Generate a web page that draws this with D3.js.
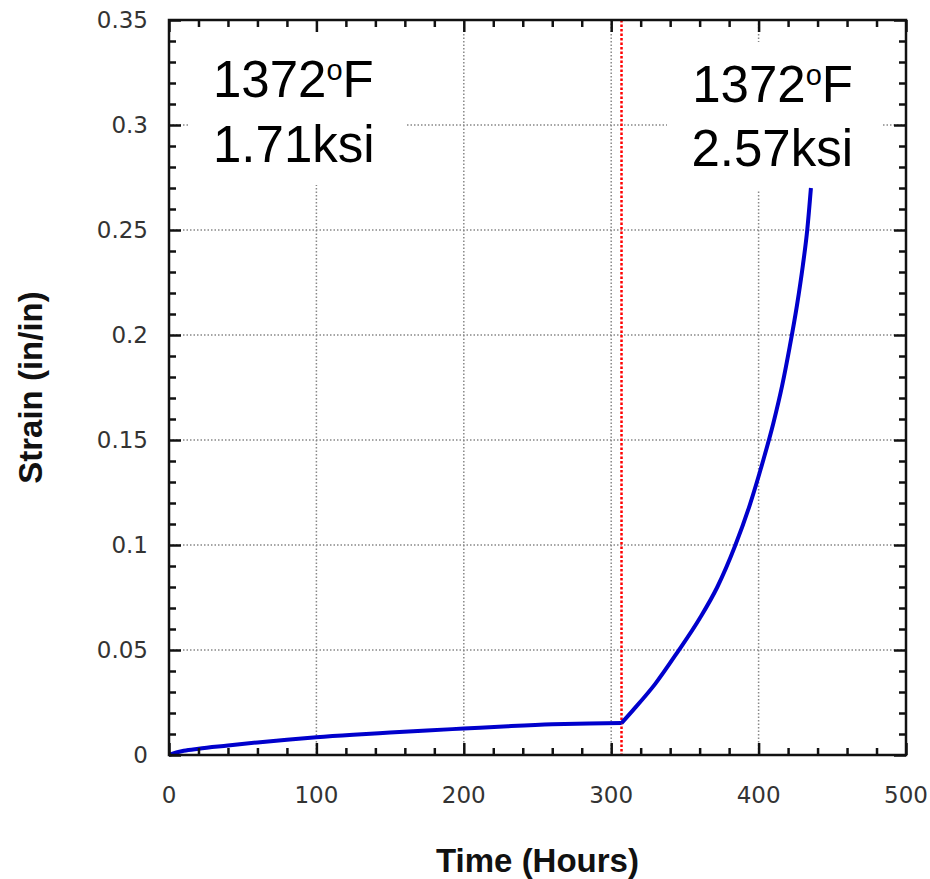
<!DOCTYPE html>
<meta charset="utf-8">
<script src="https://cdnjs.cloudflare.com/ajax/libs/d3/7.8.5/d3.min.js"></script>
<style>
  body { margin: 0; background: white; }
  .tick-label { font-family: "DejaVu Sans"; font-size: 23px; fill: #333; }
  .axis-title { font-family: "Liberation Sans"; font-weight: bold; font-size: 33px; fill: #111; }
  .note { font-family: "Liberation Sans"; font-size: 51px; fill: black; }
</style>
<body>
<script>
  // strain vs time
  var time1 = [0, 5, 10, 20, 40, 60, 80, 100, 125, 150, 175, 200, 230, 260, 285, 307];
  var strain1 = [0, 0.0012, 0.002, 0.003, 0.0045, 0.006, 0.0073, 0.0085, 0.0097, 0.0107, 0.0117, 0.0126, 0.0137, 0.0146, 0.015, 0.0152];
  var time2 = [307, 315, 330, 345, 360, 372, 384, 394, 403, 410, 416, 421, 426, 430, 433, 435.5];
  var strain2 = [0.0152, 0.0215, 0.034, 0.049, 0.065, 0.080, 0.0995, 0.119, 0.14, 0.158, 0.176, 0.194, 0.214, 0.233, 0.25, 0.27];
  var loadChange = 307;

  var xTicks = [0, 100, 200, 300, 400, 500];
  var yTicks = [0, 0.05, 0.1, 0.15, 0.2, 0.25, 0.3, 0.35];

  var WIDTH = 930, HEIGHT = 879;
  var pLeft = 169, pRight = 906, pTop = 20, pBottom = 755;

  var svg = d3.select("body").append("svg")
    .attr("width", WIDTH)
    .attr("height", HEIGHT);

  var x = d3.scaleLinear().domain([0, 500]).range([pLeft, pRight]);
  var y = d3.scaleLinear().domain([0, 0.35]).range([pBottom, pTop]);

  // gridlines
  svg.append("g").selectAll("line").data(xTicks.slice(1, -1)).enter().append("line")
    .attr("x1", d => x(d)).attr("x2", d => x(d))
    .attr("y1", pTop).attr("y2", pBottom)
    .attr("stroke", "#888").attr("stroke-width", 1.5).attr("stroke-dasharray", "1.5,2");
  svg.append("g").selectAll("line").data(yTicks.slice(1, -1)).enter().append("line")
    .attr("y1", d => y(d)).attr("y2", d => y(d))
    .attr("x1", pLeft).attr("x2", pRight)
    .attr("stroke", "#888").attr("stroke-width", 1.5).attr("stroke-dasharray", "1.5,2");

  // white boxes behind the notes
  svg.append("rect").attr("x", 188).attr("y", pTop + 2).attr("width", 217).attr("height", 163).attr("fill", "white");
  svg.append("rect").attr("x", 667).attr("y", 42).attr("width", 215).attr("height", 148).attr("fill", "white");

  // red dotted line where the load changes
  svg.append("line")
    .attr("x1", x(loadChange)).attr("x2", x(loadChange))
    .attr("y1", pTop).attr("y2", pBottom)
    .attr("stroke", "red").attr("stroke-width", 2.5).attr("stroke-dasharray", "2.5,2");

  // curves
  var line = d3.line().x(d => x(d[0])).y(d => y(d[1])).curve(d3.curveMonotoneX);
  [[time1, strain1], [time2, strain2]].forEach(function(s) {
    svg.append("path")
      .datum(d3.zip(s[0], s[1]))
      .attr("d", line)
      .attr("fill", "none")
      .attr("stroke", "#0000cc")
      .attr("stroke-width", 4);
  });

  // axes with inward ticks on all four sides
  function minor(major, step) {
    var out = [];
    for (var i = 0; i < major.length - 1; i++)
      for (var k = 1; k < 5; k++) out.push(major[i] + k * step);
    return out;
  }
  var xMinor = minor(xTicks, 20);
  var yMinor = minor(yTicks, 0.01);

  var axes = svg.append("g");
  axes.append("g").attr("transform", "translate(0," + pBottom + ")")
    .call(d3.axisTop(x).tickValues(xTicks).tickSize(12).tickFormat(""));
  axes.append("g").attr("transform", "translate(0," + pBottom + ")")
    .call(d3.axisTop(x).tickValues(xMinor).tickSize(7).tickFormat(""));
  axes.append("g").attr("transform", "translate(0," + pTop + ")")
    .call(d3.axisBottom(x).tickValues(xTicks).tickSize(12).tickFormat(""));
  axes.append("g").attr("transform", "translate(0," + pTop + ")")
    .call(d3.axisBottom(x).tickValues(xMinor).tickSize(7).tickFormat(""));
  axes.append("g").attr("transform", "translate(" + pLeft + ",0)")
    .call(d3.axisRight(y).tickValues(yTicks).tickSize(12).tickFormat(""));
  axes.append("g").attr("transform", "translate(" + pLeft + ",0)")
    .call(d3.axisRight(y).tickValues(yMinor).tickSize(7).tickFormat(""));
  axes.append("g").attr("transform", "translate(" + pRight + ",0)")
    .call(d3.axisLeft(y).tickValues(yTicks).tickSize(12).tickFormat(""));
  axes.append("g").attr("transform", "translate(" + pRight + ",0)")
    .call(d3.axisLeft(y).tickValues(yMinor).tickSize(7).tickFormat(""));
  axes.selectAll(".domain").remove();
  axes.selectAll("text").remove();
  axes.selectAll("line").attr("stroke", "#111").attr("stroke-width", 2.5);

  svg.append("rect")
    .attr("x", pLeft).attr("y", pTop)
    .attr("width", pRight - pLeft).attr("height", pBottom - pTop)
    .attr("fill", "none").attr("stroke", "#111").attr("stroke-width", 2.5);

  // tick labels
  svg.selectAll(".xl").data(xTicks).enter().append("text")
    .attr("class", "tick-label")
    .attr("x", d => x(d)).attr("y", 803)
    .attr("text-anchor", "middle")
    .text(d => d);
  svg.selectAll(".yl").data(yTicks).enter().append("text")
    .attr("class", "tick-label")
    .attr("x", 148).attr("y", d => y(d) + 8)
    .attr("text-anchor", "end")
    .text(d => d);

  // axis titles
  svg.append("text").attr("class", "axis-title")
    .attr("x", (pLeft + pRight) / 2).attr("y", 872)
    .attr("text-anchor", "middle")
    .text("Time (Hours)");
  svg.append("text").attr("class", "axis-title")
    .attr("transform", "translate(42," + (pTop + pBottom) / 2 + ") rotate(-90)")
    .attr("text-anchor", "middle")
    .text("Strain (in/in)");

  // notes
  function note(xp, y1, y2, anchor, second) {
    var t = svg.append("text").attr("class", "note").attr("x", xp).attr("y", y1).attr("text-anchor", anchor);
    t.append("tspan").text("1372");
    t.append("tspan").attr("font-size", 29).attr("dy", -17).text("o");
    t.append("tspan").attr("dy", 17).text("F");
    svg.append("text").attr("class", "note").attr("x", xp).attr("y", y2).attr("text-anchor", anchor).text(second);
  }
  note(213, 97, 162, "start", "1.71ksi");
  note(853, 102, 166, "end", "2.57ksi");
</script>
</body>
